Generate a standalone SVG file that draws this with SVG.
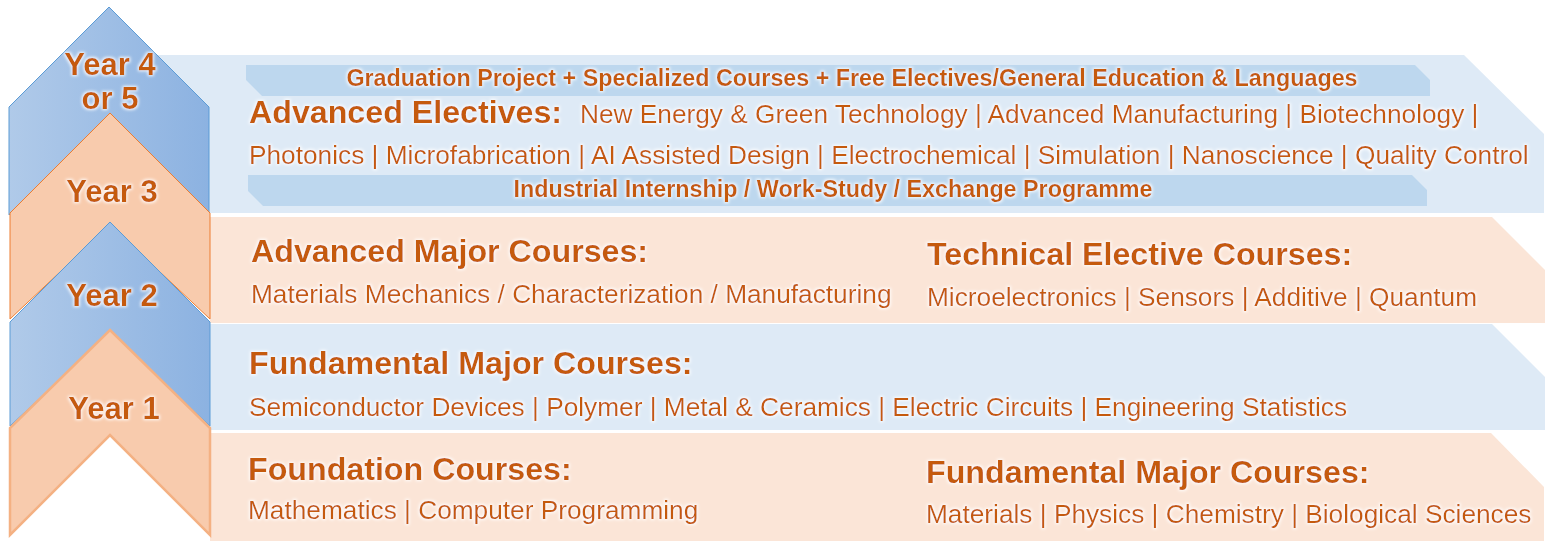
<svg xmlns="http://www.w3.org/2000/svg" width="1557" height="556" viewBox="0 0 1557 556">
<defs>
<linearGradient id="blueGrad" x1="0" y1="0" x2="1" y2="0">
<stop offset="0" stop-color="#B0CAE9"/>
<stop offset="1" stop-color="#8CB2E1"/>
</linearGradient>
<filter id="glow" x="-5%" y="-40%" width="110%" height="180%">
<feMorphology in="SourceAlpha" operator="dilate" radius="1" result="d"/>
<feGaussianBlur in="d" stdDeviation="1.6" result="b"/>
<feFlood flood-color="#FFFFFF" flood-opacity="0.9"/>
<feComposite in2="b" operator="in" result="g"/>
<feMerge><feMergeNode in="g"/><feMergeNode in="SourceGraphic"/></feMerge>
</filter>
</defs>
<style>
.bandB{fill:#DEEAF6}
.bandP{fill:#FBE5D7}
.ribbon{fill:#BDD7EE}
.chB{fill:url(#blueGrad);stroke:#5B9BD5;stroke-width:1}
.chP{fill:#F8CBAD;stroke:#ED7D31;stroke-width:1}
.chP1{fill:#F8CBAD;stroke:#F4B183;stroke-width:2.5}
text{fill:#C55A11;font-family:"Liberation Sans",Arial,Helvetica,sans-serif;filter:url(#glow)}
.h{font-weight:bold;font-size:32.2px}
.r{font-size:26.25px}
.b{font-weight:bold;font-size:23.3px;text-anchor:middle}
.y{font-weight:bold;font-size:31px;text-anchor:middle}
</style>
<rect width="1557" height="556" fill="#FFFFFF"/>

<g id="band-year4">
<polygon class="bandB" points="150,55 1464,55 1544,134 1544,213 150,213"/>
<polygon class="ribbon" points="246,65 1415,65 1430,80 1430,96 262,96 246,80"/>
<polygon class="ribbon" points="248,175 1412,175 1427,190 1427,206 263,206 248,191"/>
<text class="b" x="852" y="86">Graduation Project + Specialized Courses + Free Electives/General Education &amp; Languages</text>
<text class="h" x="249" y="123">Advanced Electives:</text>
<text class="r" x="580" y="123">New Energy &amp; Green Technology | Advanced Manufacturing | Biotechnology |</text>
<text class="r" x="249" y="164">Photonics | Microfabrication | AI Assisted Design | Electrochemical | Simulation | Nanoscience | Quality Control</text>
<text class="b" x="833" y="197">Industrial Internship / Work-Study / Exchange Programme</text>
</g>

<g id="band-year3">
<polygon class="bandP" points="210,217 1492,217 1545,270 1545,323 210,323"/>
<text class="h" x="251" y="262">Advanced Major Courses:</text>
<text class="r" x="251" y="303">Materials Mechanics / Characterization / Manufacturing</text>
<text class="h" x="927" y="265">Technical Elective Courses:</text>
<text class="r" x="927" y="306">Microelectronics | Sensors | Additive | Quantum</text>
</g>

<g id="band-year2">
<polygon class="bandB" points="210,324 1492,324 1545,377 1545,430 210,430"/>
<text class="h" x="249" y="374">Fundamental Major Courses:</text>
<text class="r" x="249" y="416">Semiconductor Devices | Polymer | Metal &amp; Ceramics | Electric Circuits | Engineering Statistics</text>
</g>

<g id="band-year1">
<polygon class="bandP" points="210,433 1491,433 1544,487 1544,541 210,541"/>
<text class="h" x="248" y="480">Foundation Courses:</text>
<text class="r" x="248" y="519">Mathematics | Computer Programming</text>
<text class="h" x="926" y="483">Fundamental Major Courses:</text>
<text class="r" x="926" y="523">Materials | Physics | Chemistry | Biological Sciences</text>
</g>

<g id="chevron-year4">
<polygon class="chB" points="109,7 209,107 209,215 109,116 9,215 9,107"/>
<text class="y" x="110" y="75">Year 4</text>
<text class="y" x="110" y="109">or 5</text>
</g>

<g id="chevron-year3">
<polygon class="chP" points="110,113 210,213 210,319 110,225 10,319 10,213"/>
<text class="y" x="112" y="202">Year 3</text>
</g>

<g id="chevron-year2">
<polygon class="chB" points="110,222 210,322 210,426 110,333 10,426 10,322"/>
<text class="y" x="112" y="306">Year 2</text>
</g>

<g id="chevron-year1">
<polygon class="chP1" points="110,330 210,428 210,535 110,435 10,535 10,428"/>
<text class="y" x="114" y="419">Year 1</text>
</g>

<g id="connectors"/>
</svg>
